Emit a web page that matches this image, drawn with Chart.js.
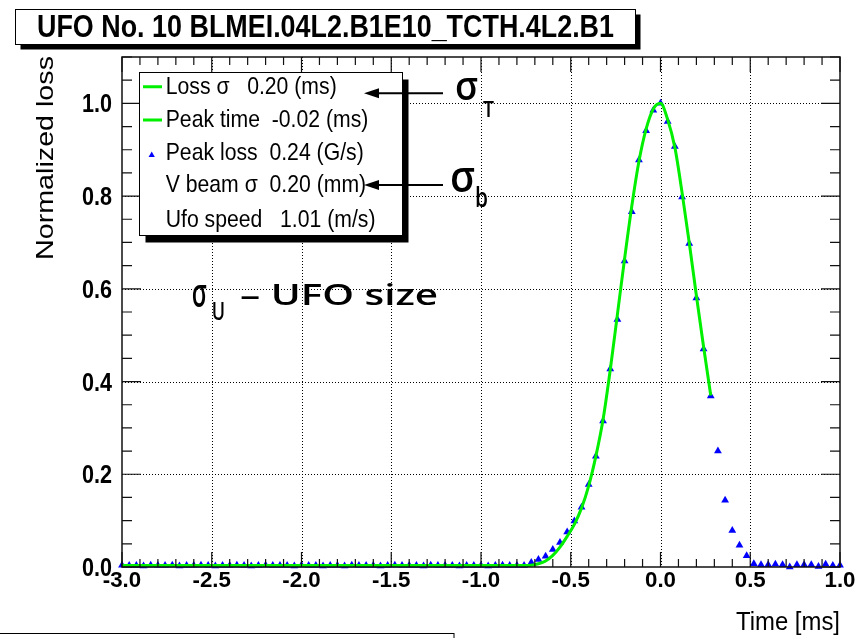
<!DOCTYPE html>
<html>
<head>
<meta charset="utf-8">
<title>UFO No. 10 BLMEI.04L2.B1E10_TCTH.4L2.B1</title>
<script src="https://cdn.jsdelivr.net/npm/chart.js@4.4.1/dist/chart.umd.min.js"></script>
<style>
  html, body { margin:0; padding:0; background:#fff; }
  #c { display:block; }
</style>
</head>
<body>
<canvas id="c" width="861" height="638"></canvas>
<script>
// measured loss, one point per 0.04 ms bin (blue triangles)
const timeVals = [
  -3.00,-2.96,-2.92,-2.88,-2.84,-2.80,-2.76,-2.72,-2.68,-2.64,
  -2.60,-2.56,-2.52,-2.48,-2.44,-2.40,-2.36,-2.32,-2.28,-2.24,
  -2.20,-2.16,-2.12,-2.08,-2.04,-2.00,-1.96,-1.92,-1.88,-1.84,
  -1.80,-1.76,-1.72,-1.68,-1.64,-1.60,-1.56,-1.52,-1.48,-1.44,
  -1.40,-1.36,-1.32,-1.28,-1.24,-1.20,-1.16,-1.12,-1.08,-1.04,
  -1.00,-0.96,-0.92,-0.88,-0.84,-0.80,-0.76,-0.72,-0.68,-0.64,
  -0.60,-0.56,-0.52,-0.48,-0.44,-0.40,-0.36,-0.32,-0.28,-0.24,
  -0.20,-0.16,-0.12,-0.08,-0.04,0.00,0.04,0.08,0.12,0.16,
  0.20,0.24,0.28,0.32,0.36,0.40,0.44,0.48,0.52,0.56,
  0.60,0.64,0.68,0.72,0.76,0.80,0.84,0.88,0.92,0.96,
  1.00
];
const lossVals = [
  0.004,0.003,0.003,0.002,0.004,0.003,0.003,0.004,0.002,0.003,
  0.003,0.004,0.003,0.002,0.003,0.003,0.004,0.003,0.002,0.003,
  0.004,0.003,0.003,0.003,0.002,0.004,0.003,0.003,0.002,0.003,
  0.003,0.002,0.004,0.003,0.003,0.003,0.002,0.003,0.004,0.003,
  0.003,0.003,0.002,0.004,0.003,0.003,0.003,0.002,0.003,0.003,
  0.003,0.002,0.003,0.004,0.003,0.003,0.003,0.0095,0.016,0.023,
  0.0375,0.053,0.0755,0.099,0.129,0.178,0.239,0.315,0.427,0.534,
  0.660,0.766,0.878,0.941,0.985,1.000,0.961,0.907,0.798,0.698,
  0.580,0.470,0.369,0.250,0.144,0.0785,0.047,0.0245,0.007,0.005,
  0.005,0.006,0.005,0.000,0.005,0.005,0.005,0.001,0.006,0.003,
  0.004
];

// fitted curve (green)
const fitTime = [-3.00,-0.84,-0.76,-0.72,-0.68,-0.64,-0.60,-0.56,-0.52,-0.48,-0.44,-0.40,-0.36,-0.32,-0.28,
  -0.24,-0.20,-0.16,-0.12,-0.08,-0.04,0.00,0.04,0.08,0.12,0.16,0.20,0.24,0.28];
const fitLoss = [0.003,0.003,0.003,0.004,0.007,0.013,0.025,0.043,0.066,0.092,0.127,0.175,0.239,0.318,0.425,
  0.545,0.665,0.778,0.875,0.945,0.988,1.000,0.965,0.905,0.808,0.700,0.585,0.475,0.370];

const xTicks = [-3.0,-2.5,-2.0,-1.5,-1.0,-0.5,0.0,0.5,1.0];
const xTickLabels = ['-3.0','-2.5','-2.0','-1.5','-1.0','-0.5','0.0','0.5','1.0'];
const yTicks = [0.0,0.2,0.4,0.6,0.8,1.0];
const yTickLabels = ['0.0','0.2','0.4','0.6','0.8','1.0'];

const titleText = 'UFO No. 10 BLMEI.04L2.B1E10_TCTH.4L2.B1';
const legendRows = ['Loss \u03c3   0.20 (ms)','Peak time  -0.02 (ms)','Peak loss  0.24 (G/s)','V beam \u03c3  0.20 (mm)','Ufo speed   1.01 (m/s)'];
const xTitle = 'Time [ms]';
const yTitle = 'Normalized loss';

const GREEN = '#00f000', BLUE = '#0000ff';
const SANS = '"Liberation Sans", Arial, sans-serif';
const HAND = '"Open Sans", "Noto Sans", sans-serif';

// draw text squeezed/stretched to a target width and cap height
function txt(ctx, s, o){
  ctx.save();
  ctx.font = o.font;
  const m = ctx.measureText(s);
  const w = m.width;
  const cap = o.asc ? m.actualBoundingBoxAscent : ctx.measureText('H').actualBoundingBoxAscent;
  const sx = o.w ? o.w / w : (o.sx || 1);
  const sy = o.asc ? o.asc / cap : (o.cap ? o.cap / cap : sx);
  ctx.translate(o.x, o.y);
  if (o.rot) ctx.rotate(o.rot);
  ctx.scale(sx, sy);
  let dx = 0;
  if (o.align === 'center') dx = -w / 2; else if (o.align === 'right') dx = -w;
  ctx.fillStyle = o.color || '#000';
  ctx.textBaseline = 'alphabetic';
  ctx.fillText(s, dx, 0);
  ctx.restore();
}

function box(ctx, x, y, w, h, sx, sy){
  ctx.fillStyle = '#000';
  ctx.fillRect(x + sx, y + sy, w, h);
  ctx.fillStyle = '#fff';
  ctx.fillRect(x, y, w, h);
  ctx.strokeStyle = '#000'; ctx.lineWidth = 1;
  ctx.strokeRect(x, y, w, h);
}

function arrow(ctx, tail, tip, y){
  ctx.strokeStyle = '#000'; ctx.lineWidth = 2;
  ctx.beginPath(); ctx.moveTo(tail, y); ctx.lineTo(tip + 10, y); ctx.stroke();
  ctx.fillStyle = '#000';
  ctx.beginPath(); ctx.moveTo(tip, y); ctx.lineTo(tip + 15, y - 5); ctx.lineTo(tip + 15, y + 5); ctx.closePath(); ctx.fill();
}

function labelScale(ctx, font, sample, width){
  ctx.font = font;
  return width / ctx.measureText(sample).width;
}

const rootStyle = {
  id: 'rootStyle',
  beforeDraw(chart){
    const ctx = chart.ctx;
    ctx.save(); ctx.fillStyle = '#fff'; ctx.fillRect(0, 0, chart.width, chart.height); ctx.restore();
  },
  beforeDatasetsDraw(chart){
    const ctx = chart.ctx, a = chart.chartArea, xs = chart.scales.x, ys = chart.scales.y;
    ctx.save();
    ctx.strokeStyle = '#000'; ctx.lineWidth = 1; ctx.setLineDash([1, 2]);
    ctx.beginPath();
    xTicks.slice(1, -1).forEach(v => { const p = Math.round(xs.getPixelForValue(v)) + 0.5; ctx.moveTo(p, a.top); ctx.lineTo(p, a.bottom); });
    yTicks.slice(1).forEach(v => { const p = Math.round(ys.getPixelForValue(v)) + 0.5; ctx.moveTo(a.left, p); ctx.lineTo(a.right, p); });
    ctx.stroke();
    ctx.restore();
  },
  afterDatasetsDraw(chart){
    const ctx = chart.ctx, a = chart.chartArea, xs = chart.scales.x, ys = chart.scales.y;
    ctx.save();

    // frame
    ctx.strokeStyle = '#111'; ctx.lineWidth = 1.5;
    ctx.strokeRect(a.left, a.top, a.right - a.left, a.bottom - a.top);

    // inward ticks on all four sides
    ctx.lineWidth = 1.2; ctx.beginPath();
    for (let k = 0; k <= 40; k++){
      const p = xs.getPixelForValue(xs.min + k * 0.1), len = k % 5 === 0 ? 15 : 8;
      ctx.moveTo(p, a.bottom); ctx.lineTo(p, a.bottom - len);
      ctx.moveTo(p, a.top); ctx.lineTo(p, a.top + len);
    }
    for (let k = 0; k <= 22; k++){
      const p = ys.getPixelForValue(k * 0.05), len = k % 4 === 0 ? 19 : 10;
      ctx.moveTo(a.left, p); ctx.lineTo(a.left + len, p);
      ctx.moveTo(a.right, p); ctx.lineTo(a.right - len, p);
    }
    ctx.stroke();

    // tick labels
    const tf = 'bold 22px ' + SANS;
    const xsx = labelScale(ctx, tf, '0.0', 31);
    xTicks.forEach((v, i) => txt(ctx, xTickLabels[i], { font: tf, x: xs.getPixelForValue(v), y: a.bottom + 19.5, sx: xsx, cap: 15.3, align: 'center' }));
    const ysx = labelScale(ctx, tf, '1.0', 30);
    yTicks.forEach((v, i) => txt(ctx, yTickLabels[i], { font: tf, x: a.left - 10, y: ys.getPixelForValue(v) + 9, sx: ysx, cap: 17, align: 'right' }));

    // axis titles
    txt(ctx, yTitle, { font: '22px ' + SANS, x: 53.3, y: 260, rot: -Math.PI / 2, w: 204, cap: 16 });
    txt(ctx, xTitle, { font: '22px ' + SANS, x: 840, y: 630, w: 104, cap: 18, align: 'right' });

    // legend
    box(ctx, 139.5, 72.5, 263, 163, 6, 7);
    const lf = '21px ' + SANS;
    const lsx = labelScale(ctx, lf, legendRows[0], 171);
    const rowY = [94.3, 126.7, 159.5, 191.7, 226.7];
    legendRows.forEach((r, i) => txt(ctx, r, { font: lf, x: 165.7, y: rowY[i], sx: lsx, cap: 16 }));
    ctx.strokeStyle = GREEN; ctx.lineWidth = 3;
    ctx.beginPath(); ctx.moveTo(143, 86.7); ctx.lineTo(162, 86.7); ctx.moveTo(143, 120); ctx.lineTo(162, 120); ctx.stroke();
    ctx.fillStyle = BLUE;
    ctx.beginPath(); ctx.moveTo(151.7, 151.5); ctx.lineTo(154.8, 157); ctx.lineTo(148.6, 157); ctx.closePath(); ctx.fill();

    // arrows and sigma labels
    arrow(ctx, 443, 364, 93.3);
    arrow(ctx, 443, 364, 185);
    txt(ctx, '\u03c3', { font: '600 40px ' + HAND, x: 455, y: 100, w: 23, asc: 22 });
    txt(ctx, 'T', { font: '600 20px ' + HAND, x: 483, y: 117, w: 11, asc: 15 });
    txt(ctx, '\u03c3', { font: '600 40px ' + HAND, x: 450, y: 191.7, w: 25, asc: 23.4 });
    txt(ctx, 'b', { font: '600 26px ' + HAND, x: 475, y: 206.7, w: 13, asc: 20 });

    txt(ctx, '\u03c3', { font: '600 40px ' + HAND, x: 191.7, y: 306.7, w: 15, asc: 21.7 });
    txt(ctx, 'U', { font: '600 24px ' + HAND, x: 211.7, y: 320, w: 13.3, asc: 18.3 });
    txt(ctx, '\u2013 UFO size', { font: '600 30px ' + HAND, x: 240, y: 305, w: 198, asc: 21.7 });

    // title pave
    box(ctx, 15.5, 9.5, 620, 35, 5, 5);
    txt(ctx, titleText, { font: 'bold 30px ' + SANS, x: 37, y: 37, w: 577, cap: 21 });

    // top edge of the pave below
    ctx.strokeStyle = '#000'; ctx.lineWidth = 1;
    ctx.strokeRect(-1, 633.5, 455, 20);

    ctx.restore();
  }
};

new Chart(document.getElementById('c'), {
  type: 'scatter',
  data: {
    datasets: [
      {
        label: 'fit',
        data: fitTime.map((t, i) => ({ x: t, y: fitLoss[i] })),
        showLine: true,
        borderColor: GREEN,
        borderWidth: 3,
        pointRadius: 0,
        cubicInterpolationMode: 'monotone',
        order: 0
      },
      {
        label: 'loss',
        data: timeVals.map((t, i) => ({ x: t, y: lossVals[i] })),
        pointStyle: 'triangle',
        pointRadius: 4.5,
        pointBackgroundColor: BLUE,
        pointBorderColor: BLUE,
        pointBorderWidth: 0,
        clip: false,
        order: 1
      }
    ]
  },
  options: {
    responsive: false,
    animation: false,
    devicePixelRatio: 1,
    layout: { padding: { top: 57, right: 21, left: 0, bottom: 0 } },
    plugins: { legend: { display: false }, tooltip: { enabled: false } },
    scales: {
      x: {
        type: 'linear', min: -3, max: 1,
        ticks: { display: false, stepSize: 0.5 },
        grid: { display: false }, border: { display: false },
        afterFit(s){ s.height = 71; }
      },
      y: {
        type: 'linear', min: 0, max: 1.1,
        ticks: { display: false, stepSize: 0.2 },
        grid: { display: false }, border: { display: false },
        afterFit(s){ s.width = 122; }
      }
    }
  },
  plugins: [rootStyle]
});
</script>
</body>
</html>
